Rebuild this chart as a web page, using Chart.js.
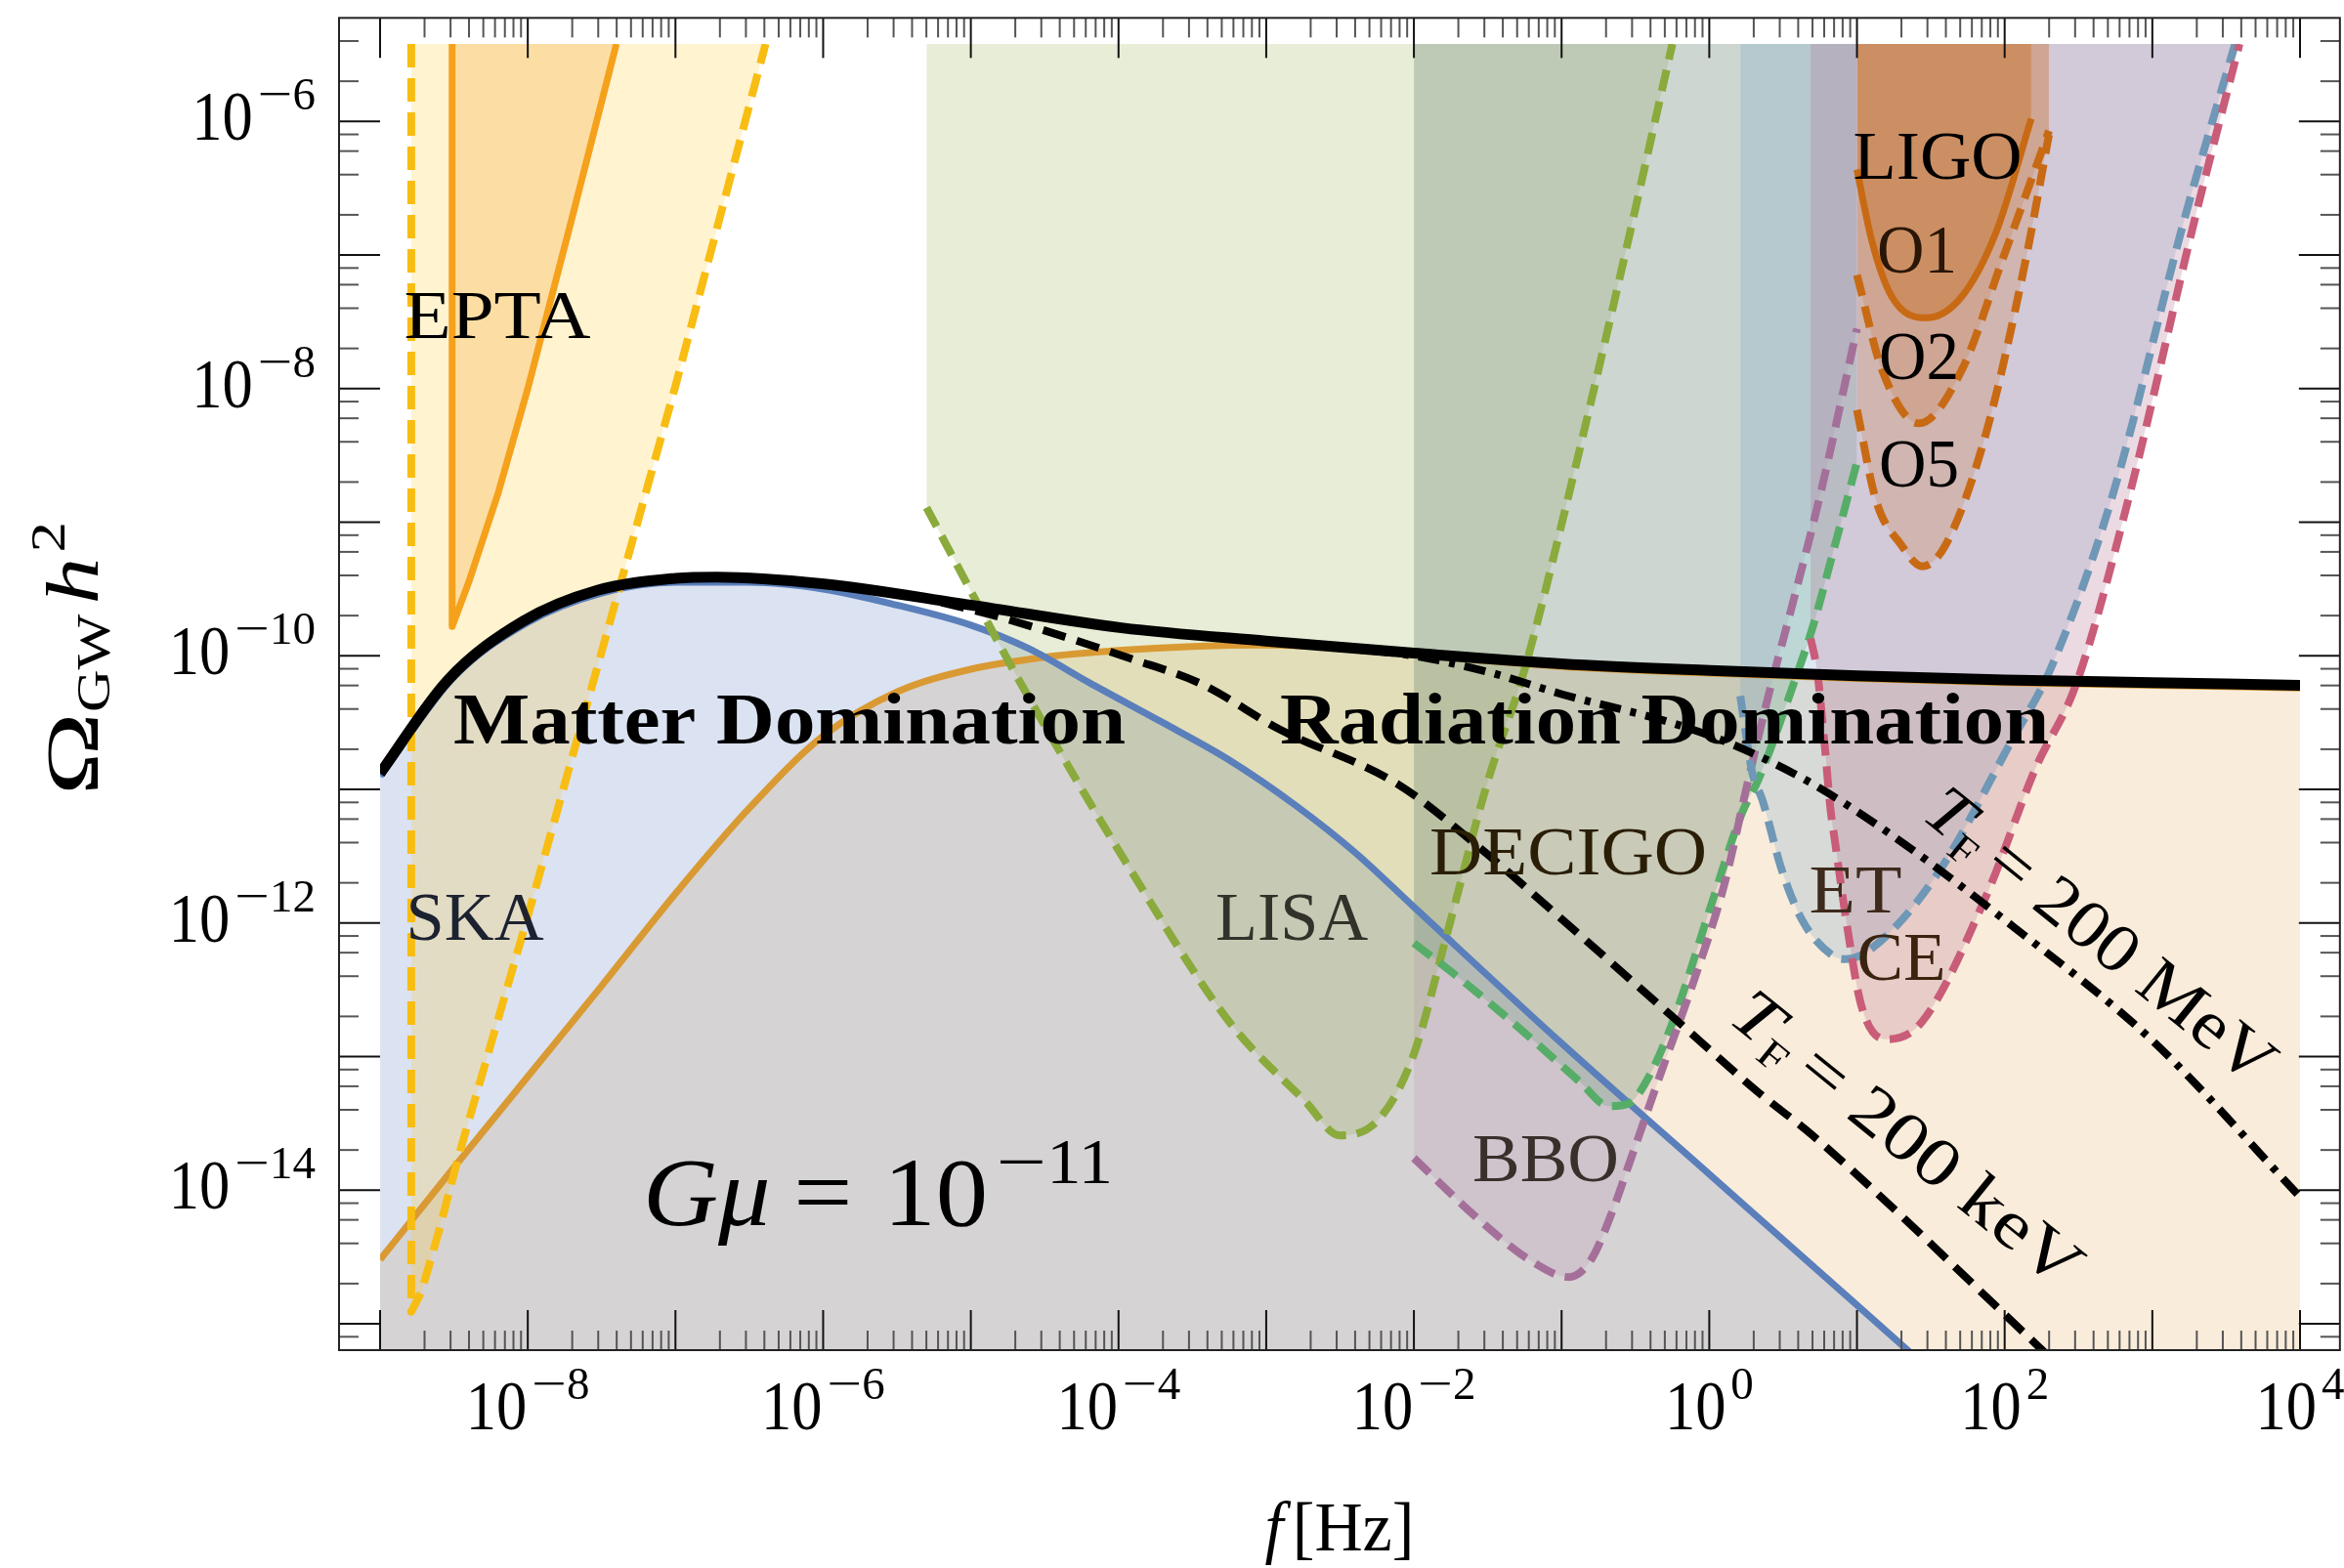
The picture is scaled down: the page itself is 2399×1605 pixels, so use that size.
<!DOCTYPE html>
<html>
<head>
<meta charset="utf-8">
<title>Omega_GW h^2 versus f</title>
<script src="https://cdn.jsdelivr.net/npm/chart.js@4.4.1/dist/chart.umd.min.js"></script>
<style>
  html, body { margin: 0; padding: 0; background: #fff; }
  canvas { display: block; }
</style>
</head>
<body>
<canvas id="omegaChart" width="2399" height="1605"></canvas>
<script>
// every number below is a log10 exponent
// (x: frequency f in Hz, y: Omega_GW h^2)

// axes
const frameX = [-9.278, 4.27];
const frameY = [-15.197, -5.225];
const plotX = [-9, 4];
const plotY = [-15.197, -5.42];
const xLabelExp = [-8, -6, -4, -2, 0, 2, 4];
const yLabelExp = [-14, -12, -10, -8, -6];
const xMinorSteps = [2, 3, 4, 5, 6, 7, 8, 9];
const yMinorSteps = [2, 4, 6, 8];

// total string spectrum (thick black)
const totalX = [-9.0, -8.54, -8.03, -7.53, -7.0, -6.72, -6.01, -5.0, -3.98, -3.0, -2.0, -1.0, 0.0, 1.0, 2.0, 3.0, 4.0];
const totalY = [-10.88, -10.18, -9.74, -9.51, -9.42, -9.41, -9.46, -9.62, -9.79, -9.89, -9.98, -10.06, -10.11, -10.15, -10.18, -10.2, -10.22];

// matter domination piece (blue)
const mdX = [-9.0, -8.5, -8.0, -7.5, -7.0, -6.5, -6.0, -5.5, -5.0, -4.6, -4.2, -3.7, -3.25, -2.8, -2.4, -2.0, -1.0, 0.0, 1.0, 1.6];
const mdY = [-10.9, -10.16, -9.75, -9.53, -9.45, -9.45, -9.5, -9.62, -9.77, -9.95, -10.2, -10.5, -10.78, -11.12, -11.47, -11.88, -12.9, -13.88, -14.86, -15.45];

// radiation domination piece (orange)
const rdX = [-9.0, -8.5, -8.0, -7.5, -7.0, -6.5, -6.0, -5.5, -5.0, -4.5, -4.0, -3.5, -3.0, -2.5, -2.0, -1.0, 0.0, 1.0, 2.0, 3.0, 4.0];
const rdY = [-14.52, -13.83, -13.15, -12.47, -11.78, -11.14, -10.6, -10.27, -10.1, -10.01, -9.96, -9.93, -9.92, -9.94, -9.99, -10.08, -10.13, -10.17, -10.2, -10.22, -10.24];

// T_F = 200 keV (dashed) and T_F = 200 MeV (dot-dashed)
const kevX = [-5.2, -4.87, -4.53, -3.92, -3.44, -2.91, -2.11, -1.54, -0.99, -0.25, 0.335, 0.7, 2.21, 2.4];
const kevY = [-9.6, -9.69, -9.8, -10.02, -10.21, -10.55, -10.96, -11.45, -11.98, -12.7, -13.27, -13.59, -15.15, -15.35];
const mevX = [-2.6, -2.0, -1.5, -0.99, -0.26, 0.15, 0.67, 1.22, 2.05, 3.0, 4.0];
const mevY = [-9.93, -10.0, -10.12, -10.29, -10.5, -10.66, -10.94, -11.33, -12.02, -12.88, -14.05];

// detector sensitivities
const eptaX = [-8.512, -8.512, -8.4, -8.2, -8.0, -7.7, -7.4];
const eptaY = [-5.42, -9.78, -9.45, -8.78, -8.0, -6.72, -5.42];
const skaX = [-8.789, -8.789, -8.72, -8.6, -8.47, -8.0, -7.5, -7.0, -6.39];
const skaY = [-5.42, -14.91, -14.76, -14.3, -13.75, -11.95, -9.97, -7.98, -5.42];
const lisaX = [-5.3, -4.93, -4.66, -3.92, -3.25, -2.74, -2.5, -2.23, -2.0, -1.78, -1.5, -1.25, -0.99, -0.65, -0.25];
const lisaY = [-8.89, -9.66, -10.21, -11.6, -12.74, -13.33, -13.59, -13.46, -12.98, -12.1, -10.94, -10.1, -8.97, -7.38, -5.42];
const decigoX = [-2.0, -1.65, -1.21, -0.875, -0.68, -0.545, -0.39, -0.214, 0.0, 0.22, 0.335, 0.555, 0.71, 0.82, 1.0];
const decigoY = [-12.15, -12.45, -12.86, -13.19, -13.37, -13.35, -13.11, -12.64, -11.91, -11.18, -10.92, -10.26, -9.75, -9.3, -8.55];
const bboX = [-2.0, -1.56, -1.22, -0.95, -0.8, -0.65, -0.545, -0.33, -0.11, 0.1, 0.27, 0.4, 0.555, 0.75, 1.0];
const bboY = [-13.76, -14.22, -14.52, -14.65, -14.52, -14.14, -13.81, -13.13, -12.45, -11.72, -10.9, -10.3, -9.65, -8.8, -7.55];
const etX = [0.21, 0.25, 0.29, 0.36, 0.49, 0.63, 0.83, 0.92, 1.1, 1.54, 2.05, 2.31, 2.72, 3.22, 3.56];
const etY = [-10.3, -10.6, -10.87, -11.08, -11.6, -11.98, -12.24, -12.27, -12.19, -11.64, -10.63, -10.1, -8.84, -6.72, -5.42];
const ceX = [0.686, 0.73, 0.78, 0.82, 0.85, 0.93, 1.03, 1.2, 1.44, 1.87, 2.21, 2.485, 2.835, 3.29, 3.59];
const ceY = [-9.87, -10.11, -10.65, -11.14, -11.38, -12.0, -12.62, -12.87, -12.74, -11.81, -10.84, -10.21, -8.84, -6.72, -5.42];
const o1X = [1.0, 1.1, 1.235, 1.47, 1.71, 1.945, 2.18];
const o1Y = [-6.36, -6.89, -7.31, -7.47, -7.31, -6.82, -5.98];
const o2X = [1.0, 1.17, 1.42, 1.71, 1.98, 2.3];
const o2Y = [-7.15, -7.86, -8.26, -7.86, -7.05, -6.07];
const o5X = [1.0, 1.13, 1.3, 1.44, 1.6, 1.87, 2.14, 2.3];
const o5Y = [-8.16, -8.84, -9.17, -9.33, -9.17, -8.35, -7.05, -6.1];

// text placed in data coordinates [log f, log Omega] (baseline)
const regionLabels = [
  { t: 'EPTA', at: [-8.206, -7.621], w: 191, c: '#000' },
  { t: 'SKA', at: [-8.358, -12.126], w: 141, c: '#1c2230' },
  { t: 'LISA', at: [-2.827, -12.126], w: 156, c: '#33322a' },
  { t: 'DECIGO', at: [-0.955, -11.636], w: 284, c: '#2a1e06' },
  { t: 'BBO', at: [-1.107, -13.932], w: 150, c: '#38302b' },
  { t: 'ET', at: [0.99, -11.921], w: 95, c: '#3e2a1c' },
  { t: 'CE', at: [1.301, -12.426], w: 91, c: '#3a2410' },
  { t: 'LIGO', at: [1.546, -6.429], w: 173, c: '#000' },
  { t: 'O1', at: [1.407, -7.131], w: 82, c: '#2a1606' },
  { t: 'O2', at: [1.42, -7.928], w: 82, c: '#000' },
  { t: 'O5', at: [1.42, -8.733], w: 82, c: '#000' }
];
const eraLabels = [
  { t: 'Matter Domination', at: [-6.228, -10.656], w: 688 },
  { t: 'Radiation Domination', at: [-0.303, -10.656], w: 787 }
];
const tensionAt = [-7.22, -14.261];
const tfLabels = [
  { t: '200 MeV', at: [2.651, -12.089] },
  { t: '200 keV', at: [1.341, -13.61] }
];

const SERIF = '"Liberation Serif", "DejaVu Serif", serif';
const font = (px, style) => (style ? style + ' ' : '') + px + 'px ' + SERIF;
const toPts = (xs, ys) => xs.map((v, i) => ({ x: Math.pow(10, v), y: Math.pow(10, ys[i]) }));

// runs: [{t, font, dy, gap, sx}] drawn one after another on a shared baseline
function drawRuns(ctx, runs, x, y, o) {
  ctx.save();
  ctx.translate(x, y);
  if (o.angle) ctx.rotate(o.angle);
  let total = 0;
  runs.forEach(r => {
    ctx.font = r.font;
    r.w = ctx.measureText(r.t).width * (r.sx || 1);
    total += r.w + (r.gap || 0);
  });
  const sx = o.width ? o.width / total : (o.sx || 1);
  ctx.scale(sx, 1);
  let cx = o.align === 'center' ? -total / 2 : (o.align === 'right' ? -total : 0);
  ctx.fillStyle = o.color || '#000';
  ctx.textBaseline = 'alphabetic';
  runs.forEach(r => {
    ctx.font = r.font;
    ctx.save();
    ctx.translate(cx, (r.dy || 0) + (o.dy || 0));
    ctx.scale(r.sx || 1, 1);
    ctx.fillText(r.t, 0, 0);
    ctx.restore();
    cx += r.w + (r.gap || 0);
  });
  ctx.restore();
}

function powerRuns(e) {
  const runs = [{ t: '10', font: font(71), gap: 5, sx: 0.88 }];
  if (e < 0) runs.push({ t: '\u2212', font: font(47), dy: -31, sx: 1.35 });
  runs.push({ t: String(Math.abs(e)), font: font(47), dy: -31 });
  return runs;
}

const decorations = {
  id: 'decorations',
  beforeDraw(chart) {
    const ctx = chart.ctx;
    ctx.save();
    ctx.fillStyle = '#fff';
    ctx.fillRect(0, 0, chart.width, chart.height);
    ctx.restore();
  },
  afterDatasetsDraw(chart) {
    const ctx = chart.ctx;
    const xs = chart.scales.x, ys = chart.scales.y;
    const px = e => xs.getPixelForValue(Math.pow(10, e));
    const py = e => ys.getPixelForValue(Math.pow(10, e));

    // region names
    regionLabels.forEach(l => {
      drawRuns(ctx, [{ t: l.t, font: font(70) }], px(l.at[0]), py(l.at[1]), { align: 'center', width: l.w, color: l.c });
    });
    eraLabels.forEach(l => {
      drawRuns(ctx, [{ t: l.t, font: font(74, 'bold') }], px(l.at[0]), py(l.at[1]), { align: 'center', width: l.w });
    });
    drawRuns(ctx, [
      { t: 'G', font: font(100, 'italic') },
      { t: '\u03bc', font: font(100, 'italic'), gap: 22 },
      { t: '=', font: font(100), gap: 30 },
      { t: '10', font: font(100), gap: 8 },
      { t: '\u2212', font: font(66), dy: -43, sx: 1.3 },
      { t: '11', font: font(66), dy: -43 }
    ], px(tensionAt[0]), py(tensionAt[1]), { width: 481 });
    tfLabels.forEach(l => {
      drawRuns(ctx, [
        { t: 'T', font: font(70, 'italic') },
        { t: 'F', font: font(42), dy: 12, gap: 12 },
        { t: '= ' + l.t, font: font(70) }
      ], px(l.at[0]), py(l.at[1]), { align: 'center', width: 440, angle: 39 * Math.PI / 180, dy: 23 });
    });

    // frame with inward ticks
    const L = px(frameX[0]), R = px(frameX[1]), T = py(frameY[1]), B = py(frameY[0]);
    ctx.save();
    ctx.lineWidth = 2;
    const tick = (x1, y1, x2, y2, col) => {
      ctx.strokeStyle = col; ctx.beginPath(); ctx.moveTo(x1, y1); ctx.lineTo(x2, y2); ctx.stroke();
    };
    for (let e = Math.ceil(plotX[0]); e <= plotX[1]; e++) {
      const X = px(e);
      tick(X, B, X, B - 41, '#111');
      tick(X, T, X, T + 41, '#111');
      if (e < plotX[1]) {
        xMinorSteps.forEach(k => {
          const Xm = px(e + Math.log10(k));
          tick(Xm, B, Xm, B - 20, '#555');
          tick(Xm, T, Xm, T + 20, '#555');
        });
      }
    }
    for (let e = Math.floor(frameY[0]); e <= Math.ceil(frameY[1]); e++) {
      if (e >= frameY[0] && e <= frameY[1]) {
        const Y = py(e);
        tick(L, Y, L + 42, Y, '#111');
        tick(R, Y, R - 42, Y, '#111');
      }
      yMinorSteps.forEach(k => {
        const v = e + Math.log10(k);
        if (v <= frameY[0] || v >= frameY[1]) return;
        const Ym = py(v);
        tick(L, Ym, L + 20, Ym, '#555');
        tick(R, Ym, R - 20, Ym, '#555');
      });
    }
    ctx.strokeStyle = '#222';
    ctx.strokeRect(L, T, R - L, B - T);
    ctx.restore();

    // tick labels
    xLabelExp.forEach(e => {
      drawRuns(ctx, powerRuns(e), px(e), B + 81, { align: 'center' });
    });
    yLabelExp.forEach(e => {
      drawRuns(ctx, powerRuns(e), L - 24, py(e) + 19, { align: 'right' });
    });

    // axis titles
    drawRuns(ctx, [
      { t: 'f', font: font(72, 'italic'), gap: 10 },
      { t: '[Hz]', font: font(72) }
    ], (L + R) / 2, B + 205, { align: 'center', width: 153 });
    drawRuns(ctx, [
      { t: '\u03a9', font: font(76), sx: 1.2 },
      { t: 'GW', font: font(48), dy: 12, gap: 8 },
      { t: 'h', font: font(76, 'italic'), gap: 4 },
      { t: '2', font: font(50), dy: -34 }
    ], 100, (T + B) / 2 - 26, { align: 'center', width: 280, angle: -Math.PI / 2 });
  }
};

function curve(xv, yv, color, extra) {
  return Object.assign({
    data: toPts(xv, yv),
    borderColor: color,
    borderWidth: 8,
    pointRadius: 0,
    fill: false,
    cubicInterpolationMode: 'monotone'
  }, extra);
}
const DASH = [22, 11];

new Chart(document.getElementById('omegaChart'), {
  type: 'line',
  data: {
    datasets: [
      curve(totalX, totalY, '#000', { borderWidth: 11 }),
      curve(kevX, kevY, '#000', { borderWidth: 8, borderDash: [24, 12] }),
      curve(mevX, mevY, '#000', { borderWidth: 8, borderDash: [22, 10, 6, 10] }),
      curve(o1X, o1Y, '#c86a14', { borderWidth: 7, fill: 'end', backgroundColor: 'rgba(200,115,45,0.45)' }),
      curve(o2X, o2Y, '#c86a14', { borderDash: DASH, fill: 'end', backgroundColor: 'rgba(205,125,60,0.25)' }),
      curve(o5X, o5Y, '#c86a14', { borderDash: DASH, fill: 'end', backgroundColor: 'rgba(205,125,60,0.25)' }),
      curve(ceX, ceY, '#c95c78', { borderDash: DASH, fill: 'end', backgroundColor: 'rgba(180,109,143,0.25)' }),
      curve(etX, etY, '#6f97b6', { borderDash: DASH, fill: 'end', backgroundColor: 'rgba(114,162,204,0.25)' }),
      curve(bboX, bboY, '#a4709a', { borderDash: DASH, fill: 'end', backgroundColor: 'rgba(166,110,158,0.15)' }),
      curve(decigoX, decigoY, '#56ad68', { borderDash: DASH, fill: 'end', backgroundColor: 'rgba(85,168,104,0.25)' }),
      curve(lisaX, lisaY, '#8aaa3c', { borderDash: DASH, fill: 'end', backgroundColor: 'rgba(140,170,60,0.21)' }),
      curve(eptaX, eptaY, '#f5a11c', { borderWidth: 7, cubicInterpolationMode: 'default', tension: 0, fill: 'end', backgroundColor: 'rgba(245,160,30,0.25)' }),
      curve(skaX, skaY, '#f8bd12', { borderDash: [24, 11], cubicInterpolationMode: 'default', tension: 0, fill: 'end', backgroundColor: 'rgba(255,200,40,0.22)' }),
      curve(mdX, mdY, '#5a7fbb', { borderWidth: 7, fill: 'start', backgroundColor: 'rgba(90,125,190,0.22)' }),
      curve(rdX, rdY, '#d99a33', { borderWidth: 7, fill: 'start', backgroundColor: 'rgba(225,160,70,0.2)' })
    ]
  },
  options: {
    responsive: false,
    animation: false,
    devicePixelRatio: 1,
    layout: { padding: { left: 389, right: 45, top: 45, bottom: 223 } },
    scales: {
      x: { type: 'logarithmic', min: Math.pow(10, plotX[0]), max: Math.pow(10, plotX[1]), display: false },
      y: { type: 'logarithmic', min: Math.pow(10, plotY[0]), max: Math.pow(10, plotY[1]), display: false }
    },
    elements: { line: { capBezierPoints: false, borderJoinStyle: 'round' } },
    plugins: {
      legend: { display: false },
      tooltip: { enabled: false },
      filler: { drawTime: 'beforeDatasetsDraw', propagate: false }
    }
  },
  plugins: [decorations]
});
</script>
</body>
</html>
